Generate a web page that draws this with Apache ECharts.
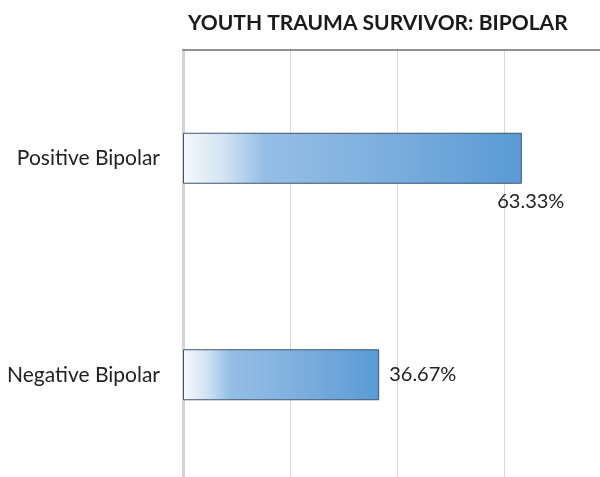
<!DOCTYPE html>
<html>
<head>
<meta charset="utf-8">
<script src="https://cdn.jsdelivr.net/npm/echarts@6/dist/echarts.min.js"></script>
<style>html,body{margin:0;padding:0;background:#fff;}#c{width:600px;height:477px;}</style>
</head>
<body>
<div id="c"></div>
<script>
var titleText = 'YOUTH TRAUMA SURVIVOR: BIPOLAR';
var categories = ['Positive Bipolar', 'Negative Bipolar'];
var values = [63.33, 36.67];
var labelTexts = ['63.33%', '36.67%'];
var xTicks = [0, 20, 40, 60, 80];

var chart = echarts.init(document.getElementById('c'), null, {renderer: 'canvas'});
var grad = new echarts.graphic.LinearGradient(0, 0, 1, 0, [
  {offset: 0, color: '#f6f9fd'},
  {offset: 0.12, color: '#d3e3f3'},
  {offset: 0.24, color: '#95bee5'},
  {offset: 0.55, color: '#80b1df'},
  {offset: 1, color: '#5a9ad4'}
]);
chart.setOption({
  animation: false,
  title: {
    text: titleText, left: 183, top: 8,
    textStyle: {fontFamily: 'Lato', fontWeight: 'bold', fontSize: 21, color: '#1a1a1a'}
  },
  grid: {left: 183, top: 50, width: 428, height: 433, outerBoundsMode: 'none', containLabel: false},
  xAxis: {
    type: 'value', position: 'top', min: xTicks[0], max: xTicks[xTicks.length - 1], interval: 20,
    axisLine: {show: true, lineStyle: {color: '#6b6e72', width: 1.5}},
    axisTick: {show: false}, axisLabel: {show: false},
    splitLine: {show: true, lineStyle: {color: '#d9d9d9', width: 1}}
  },
  yAxis: {
    type: 'category', data: categories, inverse: true,
    axisLine: {show: true, lineStyle: {color: '#d4d4d4', width: 3}},
    axisTick: {show: false},
    axisLabel: {fontFamily: 'Lato', fontSize: 21, color: '#222', margin: 23}
  },
  series: [{
    type: 'bar', barWidth: 51,
    data: values.map(function (v, i) {
      return {
        value: v,
        label: i === 0
          ? {show: true, position: ['100%', '100%'], align: 'center', verticalAlign: 'top', offset: [9, 8]}
          : {show: true, position: 'right', distance: 10}
      };
    }),
    itemStyle: {color: grad, borderColor: '#3e5670', borderWidth: 1},
    label: {
      fontFamily: 'Lato', fontSize: 20, color: '#222',
      formatter: function (p) { return labelTexts[p.dataIndex]; }
    }
  }]
});
</script>
</body>
</html>
